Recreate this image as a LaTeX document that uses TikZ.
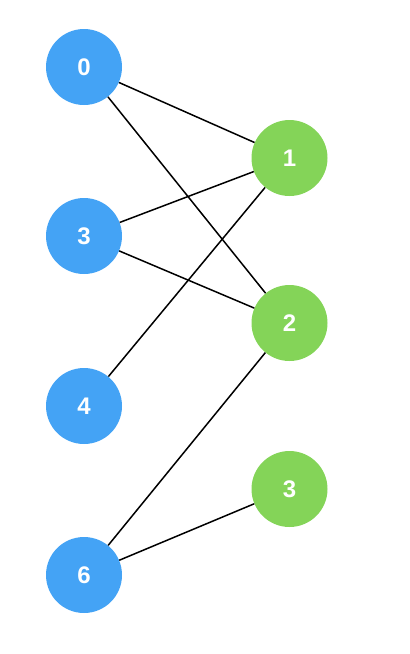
\documentclass[tikz,border=0pt]{standalone}
\usepackage{fontspec}
\setmainfont{Liberation Sans}
\definecolor{lblue}{HTML}{44A3F5}
\definecolor{lgreen}{HTML}{84D458}
\begin{document}
\begin{tikzpicture}[x=1pt,y=-1pt,
  vtx/.style={circle,minimum size=76pt,inner sep=0pt,text=white,font=\fontsize{24}{28}\selectfont\bfseries},
  bl/.style={vtx,fill=lblue},
  gr/.style={vtx,fill=lgreen},
  edge/.style={draw=black,line width=1.5pt}]
\useasboundingbox (0,0) rectangle (410,654);
\node[bl] (L0) at (84,67) {0};
\node[bl] (L3) at (84,236) {3};
\node[bl] (L4) at (84,406) {4};
\node[bl] (L6) at (84,575) {6};
\node[gr] (R1) at (289.5,158) {1};
\node[gr] (R2) at (289.5,323) {2};
\node[gr] (R3) at (289.5,489) {3};
\draw[edge] (L0) -- (R1);
\draw[edge] (L0) -- (R2);
\draw[edge] (L3) -- (R1);
\draw[edge] (L3) -- (R2);
\draw[edge] (L4) -- (R1);
\draw[edge] (L6) -- (R2);
\draw[edge] (L6) -- (R3);
\end{tikzpicture}
\end{document}
